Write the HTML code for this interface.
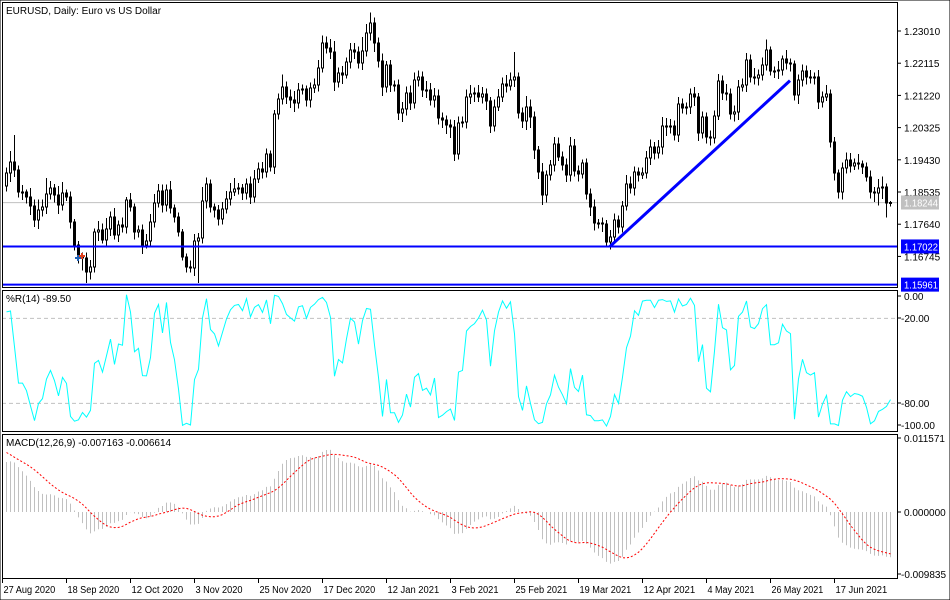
<!DOCTYPE html>
<html><head><meta charset="utf-8"><style>
html,body{margin:0;padding:0;background:#fff}
svg{display:block;font-family:"Liberation Sans",sans-serif}
</style></head><body>
<svg id="chart" width="950" height="600" viewBox="0 0 950 600" xmlns="http://www.w3.org/2000/svg">
<rect x="0" y="0" width="950" height="600" fill="#fff"/>
<g id="main"></g>
<g id="wpr"></g>
<g id="macd"></g>
<g id="axes"></g>
</svg>
<script>
const closes=[1.1906,1.1937,1.1915,1.1853,1.1853,1.1840,1.1814,1.1776,1.1803,1.1812,1.1848,1.1864,1.1845,1.1817,1.1851,1.1840,1.1770,1.1706,1.1675,1.1670,
1.1631,1.1645,1.1742,1.1748,1.1720,1.1751,1.1784,1.1734,1.1762,1.1756,1.1831,1.1812,1.1742,1.1748,1.1706,1.1717,1.1770,1.1823,1.1856,1.1817,
1.1859,1.1809,1.1784,1.1742,1.1673,1.1645,1.1642,1.1717,1.1725,1.1828,1.1876,1.1812,1.1803,1.1778,1.1806,1.1834,1.1853,1.1862,1.1864,1.1851,
1.1876,1.1840,1.1890,1.1917,1.1909,1.1959,1.1923,1.2070,1.2112,1.2145,1.2118,1.2109,1.2101,1.2137,1.2140,1.2109,1.2143,1.2151,1.2198,1.2268,
1.2254,1.2243,1.2159,1.2184,1.2179,1.2215,1.2248,1.2243,1.2212,1.2245,1.2295,1.2323,1.2268,1.2218,1.2145,1.2206,1.2151,1.2151,1.2073,1.2084,
1.2129,1.2101,1.2165,1.2173,1.2137,1.2137,1.2109,1.2120,1.2059,1.2054,1.2040,1.2034,1.1959,1.2045,1.2048,1.2118,1.2126,1.2129,1.2118,1.2126,
1.2106,1.2037,1.2090,1.2118,1.2154,1.2148,1.2165,1.2173,1.2073,1.2051,1.2090,1.2062,1.1970,1.1909,1.1845,1.1901,1.1928,1.1987,1.1951,1.1928,
1.1901,1.1981,1.1912,1.1903,1.1934,1.1848,1.1812,1.1767,1.1767,1.1764,1.1714,1.1728,1.1776,1.1756,1.1814,1.1876,1.1864,1.1909,1.1901,1.1906,
1.1948,1.1978,1.1962,1.1978,1.2037,1.2034,1.2037,1.2012,1.2098,1.2087,1.2090,1.2126,1.2118,1.2017,1.2062,1.2006,1.2003,1.2065,1.2162,1.2129,
1.2126,1.2070,1.2076,1.2145,1.2151,1.2220,1.2173,1.2170,1.2179,1.2206,1.2248,1.2190,1.2190,1.2193,1.2223,1.2212,1.2209,1.2123,1.2165,1.2190,
1.2173,1.2170,1.2173,1.2104,1.2118,1.2126,1.1992,1.1906,1.1853,1.1920,1.1942,1.1926,1.1934,1.1931,1.1923,1.1895,1.1853,1.1851,1.1864,1.1867,
1.1823,1.1824];
const upWickPips=[15,30,75,12,20,8,25,18,30,20,45,20,12,25,30,10,15,8,12,10,
15,20,10,25,18,30,15,25,12,20,8,20,10,12,15,20,22,25,20,18,
15,25,10,12,8,10,18,20,15,40,18,12,10,15,20,22,25,30,15,12,
15,20,25,18,20,15,10,12,15,35,15,20,25,20,12,10,15,18,22,20,
18,25,30,15,20,12,20,20,15,40,25,30,15,15,20,12,15,12,15,20,
18,20,20,18,15,25,20,22,18,15,12,15,20,18,15,20,25,15,22,20,
15,12,20,22,18,25,20,70,12,15,30,20,15,12,25,12,15,20,18,15,
18,25,20,15,10,12,15,20,12,15,12,20,18,12,15,25,20,15,12,15,
20,22,15,20,25,22,20,15,20,15,12,15,20,10,15,12,18,15,20,15,
25,15,18,20,18,20,15,25,15,22,30,10,12,25,10,25,12,10,15,18,
15,20,12,20,15,25,12,15,10,15,22,20,12,25,10,12,18,15,25,30,10,5];
const downWickPips=[15,25,20,15,22,18,25,20,25,18,20,15,20,25,15,12,18,15,20,35,
30,20,15,25,10,15,20,12,20,15,18,12,20,15,25,10,18,15,12,20,
18,15,15,12,10,15,12,22,117,15,20,15,20,18,15,12,18,10,15,20,
18,20,15,12,18,15,12,20,15,15,20,22,25,15,12,18,20,15,18,12,
15,20,25,15,25,10,18,20,15,20,15,20,25,18,25,15,20,18,20,25,
18,20,15,18,20,22,15,20,18,22,25,30,20,15,12,18,20,22,15,18,
25,20,15,12,15,18,12,20,15,20,25,30,25,20,28,20,15,18,12,15,
20,18,15,20,12,15,25,20,15,22,12,20,15,18,15,12,15,20,18,12,
15,20,18,15,20,25,18,15,20,15,18,20,25,22,15,18,20,15,12,20,
18,15,20,22,12,20,15,18,20,15,15,12,20,22,15,18,20,15,25,18,
20,15,18,20,15,12,15,20,18,20,15,18,12,15,20,12,18,25,35,30,40,10];
const warmupCloses=[1.1135,1.1170,1.1235,1.1220,1.1290,1.1295,1.1340,1.1370,1.1300,1.1255,1.1265,1.1325,1.1265,1.1205,1.1180,1.1205,1.1260,1.1305,1.1250,1.1220,1.1235,
1.1250,1.1235,1.1245,1.1280,1.1325,1.1275,1.1290,1.1300,1.1410,1.1445,1.1385,1.1430,1.1455,1.1525,1.1570,1.1600,1.1655,1.1645,1.1715,1.1790,1.1845,
1.1775,1.1735,1.1800,1.1880,1.1785,1.1735,1.1740,1.1785,1.1840,1.1840,1.1870,1.1860,1.1880,1.1920,1.1835,1.1790,1.1865,1.1845,1.1870,1.1870];
const priceTicks=["1.23010","1.22115","1.21220","1.20325","1.19430","1.18535","1.17640","1.16745"];
const hLevels=[1.17022,1.15961];
const trendBars=[151,196];
const trendPrices=[1.17022,1.2163];
const dateLabels=["27 Aug 2020","18 Sep 2020","12 Oct 2020","3 Nov 2020","25 Nov 2020","17 Dec 2020","12 Jan 2021","3 Feb 2021","25 Feb 2021","19 Mar 2021","12 Apr 2021","4 May 2021","26 May 2021","17 Jun 2021"];
const dateBars=[-1,15,31,47,63,79,95,111,127,143,159,175,191,207];
const wprTicks=[0,-20,-80,-100];
const macdTicks=[0.011571,0,-0.009835];

const NS="http://www.w3.org/2000/svg";
function el(tag,attrs,parent,text){const e=document.createElementNS(NS,tag);for(const k in attrs)e.setAttribute(k,attrs[k]);if(text!==undefined)e.textContent=text;parent.appendChild(e);return e;}
const xOf=i=>6+4*i;
const yP=p=>31+(1.2301-p)*3598;
const yW=v=>290+(-v)/100*141.7;
const yM=v=>512-v*6395;
const main=document.getElementById('main'),wpr=document.getElementById('wpr'),macd=document.getElementById('macd'),axes=document.getElementById('axes');

const opens=[],highs=[],lows=[];
for(let i=0;i<closes.length;i++){
  const o=i===0?warmupCloses[warmupCloses.length-1]:closes[i-1];
  opens.push(o);
  highs.push(Math.max(o,closes[i])+upWickPips[i]*0.0001);
  lows.push(Math.min(o,closes[i])-downWickPips[i]*0.0001);
}
const cur=el('line',{x1:2,x2:897,y1:yP(closes[closes.length-1]),y2:yP(closes[closes.length-1]),stroke:'#c0c0c0','stroke-width':1},main);


for(let i=0;i<closes.length;i++){
  const x=xOf(i),o=opens[i],c=closes[i];
  const g=el('g',{'shape-rendering':'crispEdges'},main);
  
  
  el('line',{x1:x+0.5,x2:x+0.5,y1:yP(highs[i]),y2:yP(lows[i]),stroke:'#000','stroke-width':1},g);
  const top=Math.min(yP(o),yP(c)),h=Math.max(1,Math.abs(yP(o)-yP(c)));
  el('rect',{x:x-0.5,y:top,width:2,height:h,fill:c>=o?'#fff':'#000',stroke:'#000','stroke-width':1},g);
}
hLevels.forEach(p=>{
  const l=el('line',{x1:2,x2:897,y1:yP(p),y2:yP(p),stroke:'#0000ff','stroke-width':2},main);
  
  
});
const tl=el('line',{x1:xOf(trendBars[0]),y1:yP(trendPrices[0]),x2:xOf(trendBars[1]),y2:yP(trendPrices[1]),stroke:'#0000ff','stroke-width':3},main);


const mk=el('g',{},main);


el('path',{d:'M75 258 h6 M78 255 v6',stroke:'#1e5fb4','stroke-width':2},mk);
el('path',{d:'M79 256 h6 M82 253 v6',stroke:'#e0401c','stroke-width':2},mk);

const allC=warmupCloses.concat(closes);
const wH=warmupCloses.map((c,k)=>Math.max(c,k?warmupCloses[k-1]:c)+0.002).concat(highs);
const wL=warmupCloses.map((c,k)=>Math.min(c,k?warmupCloses[k-1]:c)-0.002).concat(lows);
const off=warmupCloses.length;
el('line',{x1:2,x2:897,y1:yW(-20),y2:yW(-20),stroke:'#c0c0c0','stroke-dasharray':'4,3'},wpr);
el('line',{x1:2,x2:897,y1:yW(-80),y2:yW(-80),stroke:'#c0c0c0','stroke-dasharray':'4,3'},wpr);
let wpts=[];
for(let i=0;i<closes.length;i++){
  const j=i+off;let hh=-1,ll=9;
  for(let k=j-13;k<=j;k++){hh=Math.max(hh,wH[k]);ll=Math.min(ll,wL[k]);}
  const v=-100*(hh-allC[j])/(hh-ll);
  wpts.push(xOf(i)+0.5+','+yW(v).toFixed(1));
}
const wl=el('polyline',{points:wpts.join(' '),fill:'none',stroke:'#00ffff','stroke-width':1},wpr);



let e12=allC[0],e26=allC[0];const mainL=[];
for(let j=0;j<allC.length;j++){e12+= (allC[j]-e12)*2/13;e26+=(allC[j]-e26)*2/27;mainL.push(e12-e26);}
const sig=mainL.map((v,j)=>{const s=Math.max(0,j-8);let t=0;for(let k=s;k<=j;k++)t+=mainL[k];return t/(j-s+1);});
const sp=[];
for(let i=0;i<closes.length;i++){
  const j=i+off;
  const b=el('line',{x1:xOf(i)+0.5,x2:xOf(i)+0.5,y1:yM(0),y2:yM(mainL[j]),stroke:'#c0c0c0','stroke-width':1},macd);
  
  
  sp.push(xOf(i)+0.5+','+yM(sig[j]).toFixed(1));
}
const sl=el('polyline',{points:sp.join(' '),fill:'none',stroke:'#ff0000','stroke-width':1,'stroke-dasharray':'2,2'},macd);



[[2,2,895,285],[2,290,895,141],[2,434,895,144]].forEach(r=>{
  el('rect',{x:r[0]+0.5,y:r[1]+0.5,width:r[2],height:r[3],fill:'none',stroke:'#000','stroke-width':1,'shape-rendering':'crispEdges'},axes);
});
el('rect',{x:0,y:0,width:950,height:600,fill:'none',stroke:'#000','stroke-width':1},axes);
const fs={'font-size':'10px',fill:'#000'};
priceTicks.forEach(t=>{
  const y=yP(parseFloat(t));
  el('line',{x1:897,x2:901,y1:y,y2:y,stroke:'#000'},axes);
  const tx=el('text',Object.assign({x:904,y:y+4},fs),axes,t);
  
  
});
function tag(p,bg,name){
  const y=yP(p);
  const g=el('g',{},axes);
  
  
  el('rect',{x:901,y:y-7,width:38,height:14,fill:bg},g);
  el('text',Object.assign({x:904,y:y+4,textLength:34,lengthAdjust:'spacingAndGlyphs'},fs,{fill:'#fff'}),g,p.toFixed(5));
}
tag(closes[closes.length-1]+0.00004,'#c0c0c0','current-price-tag');
tag(hLevels[0],'#0000ff','level-tag-upper');
tag(hLevels[1],'#0000ff','level-tag-lower');
const wprY=[296,318,403,425];
wprTicks.forEach((v,k)=>{
  el('line',{x1:897,x2:901,y1:wprY[k],y2:wprY[k],stroke:'#000'},axes);
  const tx=el('text',Object.assign({x:v<0?901:904,y:wprY[k]+4},fs),axes,v.toFixed(2));
  
  
});
macdTicks.forEach(v=>{
  const y=Math.min(574,Math.max(438,yM(v)));
  el('line',{x1:897,x2:901,y1:y,y2:y,stroke:'#000'},axes);
  const tx=el('text',Object.assign({x:v<0?901:904,y:y+4},fs),axes,v.toFixed(6));
  
  
});
dateLabels.forEach((d,k)=>{
  const x=xOf(dateBars[k])+0.5;
  el('line',{x1:x,x2:x,y1:578,y2:583,stroke:'#000'},axes);
  const tx=el('text',Object.assign({x:x+1,y:593,textLength:d.length*4.7,lengthAdjust:'spacingAndGlyphs'},fs),axes,d);
  
  
});
const t1=el('text',Object.assign({x:6,y:14},fs),axes,'EURUSD, Daily:  Euro vs US Dollar');


const t2=el('text',Object.assign({x:6,y:302},fs),axes,'%R(14) -89.50');


const t3=el('text',Object.assign({x:6,y:446},fs),axes,'MACD(12,26,9) -0.007163 -0.006614');


</script>
</body></html>
